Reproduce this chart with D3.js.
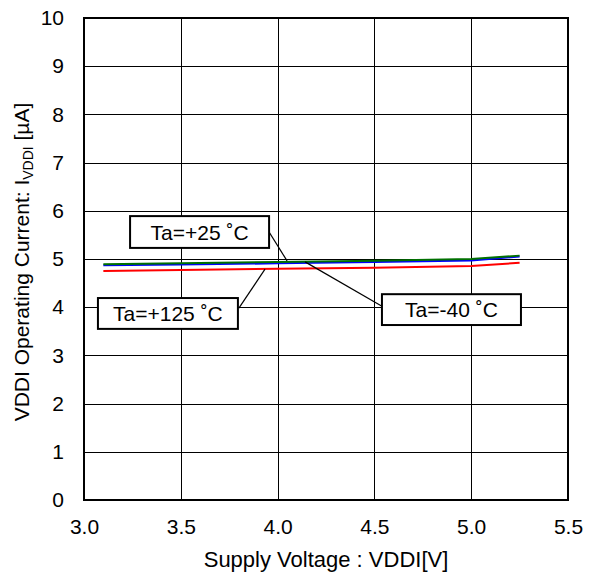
<!DOCTYPE html>
<html><head><meta charset="utf-8">
<script src="https://cdn.jsdelivr.net/npm/d3@7"></script>
<style>body{margin:0;background:#fff;} svg{display:block;} text{font-family:"Liberation Sans",Arial,sans-serif;fill:#000;}</style>
</head><body>
<svg id="c" width="594" height="574"></svg>
<script>
const voltages = [3.1, 3.5, 4.0, 4.5, 5.0, 5.25];
const seriesNames = ["Ta=-40 ˚C", "Ta=+25 ˚C", "Ta=+125 ˚C"];
const iMinus40 = [4.89, 4.91, 4.94, 4.965, 5.0, 5.07];
const iPlus25 = [4.87, 4.885, 4.91, 4.94, 4.97, 5.05];
const iPlus125 = [4.75, 4.77, 4.80, 4.82, 4.855, 4.92];
const seriesColors = ["#007000", "#0000ff", "#ff0000"];
const xTicks = [3.0, 3.5, 4.0, 4.5, 5.0, 5.5];
const yTicks = [0,1,2,3,4,5,6,7,8,9,10];
const labelText = ["Ta=+25 ˚C", "Ta=+125 ˚C", "Ta=-40 ˚C"];

const svg = d3.select("#c");
const FONT = "Liberation Sans, Arial, sans-serif";
const L = 84, R = 568, T = 18, B = 500;
const x = d3.scaleLinear().domain([3.0, 5.5]).range([L, R]);
const y = d3.scaleLinear().domain([0, 10]).range([B, T]);

// grid
const g = svg.append("g");
g.selectAll(".vx").data(xTicks.slice(1, -1)).join("line")
  .attr("x1", d => Math.round(x(d)) + 0.5).attr("x2", d => Math.round(x(d)) + 0.5)
  .attr("y1", T).attr("y2", B).attr("stroke", "#000").attr("stroke-width", 1);
g.selectAll(".hy").data(yTicks.slice(1, -1)).join("line")
  .attr("y1", d => Math.round(y(d)) + 0.5).attr("y2", d => Math.round(y(d)) + 0.5)
  .attr("x1", L).attr("x2", R).attr("stroke", "#000").attr("stroke-width", 1);

// axes (labels only)
const xAxis = d3.axisBottom(x).tickValues(xTicks).tickFormat(d3.format(".1f")).tickSize(0).tickPadding(19);
svg.append("g").attr("transform", `translate(0,${B})`).call(xAxis)
  .call(a => a.select(".domain").remove())
  .call(a => a.selectAll("text").attr("font-size", 21).attr("font-family", FONT).attr("fill", "#000"));
const yAxis = d3.axisLeft(y).tickValues(yTicks).tickFormat(d3.format("d")).tickSize(0).tickPadding(20);
svg.append("g").attr("transform", `translate(${L},0)`).call(yAxis)
  .call(a => a.select(".domain").remove())
  .call(a => a.selectAll("text").attr("font-size", 21).attr("font-family", FONT).attr("fill", "#000"));

// series
const series = [iMinus40, iPlus25, iPlus125];
const line = d3.line().x((d, i) => x(voltages[i])).y(d => y(d));
[2, 1, 0].forEach(k => {
  svg.append("path").datum(series[k]).attr("d", line)
    .attr("fill", "none").attr("stroke", seriesColors[k]).attr("stroke-width", 2);
});

// frame
svg.append("rect").attr("x", L).attr("y", T).attr("width", R - L).attr("height", B - T)
  .attr("fill", "none").attr("stroke", "#000").attr("stroke-width", 2);

// annotations (box corners and leader ends in data units)
const ann = [
  {t: labelText[0], x0: 3.238, y0: 5.89, x1: 3.956, y1: 5.23, lx: 3.956, ly: 5.56, tx: 4.049, ty: 4.96},
  {t: labelText[1], x0: 3.072, y0: 4.19, x1: 3.795, y1: 3.55, lx: 3.80, ly: 3.98, tx: 3.935, ty: 4.79},
  {t: labelText[2], x0: 4.539, y0: 4.27, x1: 5.257, y1: 3.63, lx: 4.539, ly: 4.02, tx: 4.142, ty: 4.94}
];
ann.forEach(a => {
  svg.append("line").attr("x1", x(a.lx)).attr("y1", y(a.ly)).attr("x2", x(a.tx)).attr("y2", y(a.ty))
    .attr("stroke", "#000").attr("stroke-width", 1.2);
  const bx = x(a.x0), by = y(a.y0), bw = x(a.x1) - x(a.x0), bh = y(a.y1) - y(a.y0);
  svg.append("rect").attr("x", bx).attr("y", by).attr("width", bw).attr("height", bh)
    .attr("fill", "#fff").attr("stroke", "#000").attr("stroke-width", 2);
  svg.append("text").attr("x", bx + bw / 2).attr("y", by + bh / 2 + 7.5)
    .attr("text-anchor", "middle").attr("font-size", 21).text(a.t);
});

// axis titles
svg.append("text").attr("x", 326).attr("y", 567).attr("text-anchor", "middle")
  .attr("font-size", 22).text("Supply Voltage : VDDI[V]");
const yt = svg.append("text").attr("transform", `translate(29,262) rotate(-90)`)
  .attr("text-anchor", "middle").attr("font-size", 21);
yt.append("tspan").text("VDDI Operating Current: I");
yt.append("tspan").attr("font-size", 14).attr("dy", 4).text("VDDI");
yt.append("tspan").attr("dy", -4).text(" [µA]");
</script>
</body></html>
